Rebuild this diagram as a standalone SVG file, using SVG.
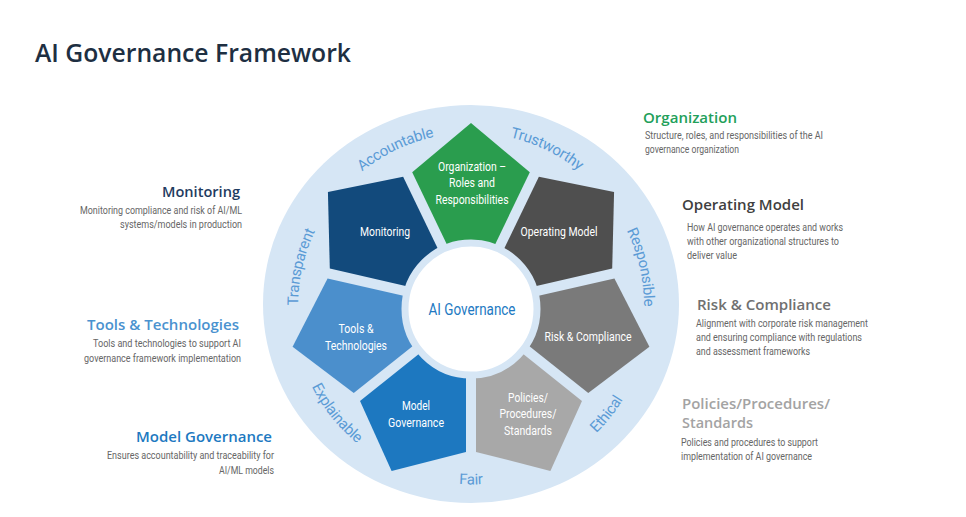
<svg xmlns="http://www.w3.org/2000/svg" xmlns:xlink="http://www.w3.org/1999/xlink" width="966" height="517" viewBox="0 0 966 517">
  <style>
    .title { font-family: "Open Sans", "Liberation Sans", sans-serif; font-weight: 600; font-size: 25px; fill: #1e2f42; }
    .head { font-family: "Open Sans", "Liberation Sans", sans-serif; font-weight: 600; font-size: 14.5px; }
    .body { font-family: Roboto, "Liberation Sans", sans-serif; font-size: 10.5px; fill: #666666; }
    .lbl { font-family: Roboto, "Liberation Sans", sans-serif; font-size: 12.5px; fill: #ffffff; text-anchor: middle; }
    .arc { font-family: Roboto, "Liberation Sans", sans-serif; font-size: 15px; letter-spacing: -0.3px; fill: #5b9bd5; }
    .end { text-anchor: end; }
  </style>
  <defs>
    <polygon id="wedge" points="0,-183 58.8,-133.7 24.1,-61.6 -24.1,-61.6 -58.8,-133.7"/>
    <path id="p-accountable" d="M313.3,234.8 A173,173 0 0 1 513.7,138.3"/>
    <path id="p-trustworthy" d="M428.3,138.3 A173,173 0 0 1 628.7,234.8"/>
    <path id="p-responsible" d="M575.4,168.1 A173,173 0 0 1 625.0,384.9"/>
    <path id="p-transparent" d="M317.0,384.9 A173,173 0 0 1 366.6,168.1"/>
    <path id="p-ethical" d="M506.4,481.0 A178.5,178.5 0 0 0 649.4,301.5"/>
    <path id="p-fair" d="M356.3,442.7 A178.5,178.5 0 0 0 585.7,442.7"/>
    <path id="p-explainable" d="M292.6,301.5 A178.5,178.5 0 0 0 435.6,481.0"/>
  </defs>

  <rect width="966" height="517" fill="#ffffff"/>
  <text class="title" x="35" y="62" textLength="316" lengthAdjust="spacingAndGlyphs">AI Governance Framework</text>

  <g id="wheel-ring">
    <ellipse cx="471" cy="304" rx="208" ry="199" fill="#d6e6f5"/>
  </g>

  <g id="node-organization">
    <use xlink:href="#wedge" transform="translate(471,306)" fill="#2a9d4e"/>
    <text class="lbl" x="472" y="171" textLength="68" lengthAdjust="spacingAndGlyphs">Organization –</text>
    <text class="lbl" x="472" y="187" textLength="46" lengthAdjust="spacingAndGlyphs">Roles and</text>
    <text class="lbl" x="472" y="204" textLength="73" lengthAdjust="spacingAndGlyphs">Responsibilities</text>
  </g>
  <g id="node-operating-model">
    <use xlink:href="#wedge" transform="translate(471,306) rotate(51.43)" fill="#4f4f4f"/>
    <text class="lbl" x="559" y="236" textLength="77" lengthAdjust="spacingAndGlyphs">Operating Model</text>
  </g>
  <g id="node-risk-compliance">
    <use xlink:href="#wedge" transform="translate(471,306) rotate(102.86)" fill="#7a7a7a"/>
    <text class="lbl" x="588" y="341" textLength="87" lengthAdjust="spacingAndGlyphs">Risk &amp; Compliance</text>
  </g>
  <g id="node-policies">
    <use xlink:href="#wedge" transform="translate(471,306) rotate(154.29)" fill="#a8a8a8"/>
    <text class="lbl" x="528" y="402" textLength="40" lengthAdjust="spacingAndGlyphs">Policies/</text>
    <text class="lbl" x="528" y="418" textLength="57" lengthAdjust="spacingAndGlyphs">Procedures/</text>
    <text class="lbl" x="528" y="435" textLength="48" lengthAdjust="spacingAndGlyphs">Standards</text>
  </g>
  <g id="node-model-governance">
    <use xlink:href="#wedge" transform="translate(471,306) rotate(205.71)" fill="#1d78c0"/>
    <text class="lbl" x="416" y="410" textLength="28" lengthAdjust="spacingAndGlyphs">Model</text>
    <text class="lbl" x="416" y="427" textLength="56" lengthAdjust="spacingAndGlyphs">Governance</text>
  </g>
  <g id="node-tools">
    <use xlink:href="#wedge" transform="translate(471,306) rotate(257.14)" fill="#4b8fcc"/>
    <text class="lbl" x="356" y="333" textLength="35" lengthAdjust="spacingAndGlyphs">Tools &amp;</text>
    <text class="lbl" x="356" y="350" textLength="62" lengthAdjust="spacingAndGlyphs">Technologies</text>
  </g>
  <g id="node-monitoring">
    <use xlink:href="#wedge" transform="translate(471,306) rotate(308.57)" fill="#124a7c"/>
    <text class="lbl" x="385" y="236" textLength="50" lengthAdjust="spacingAndGlyphs">Monitoring</text>
  </g>

  <g id="node-center">
    <circle cx="471" cy="309" r="66" fill="#ffffff" stroke="#d6e6f5" stroke-width="7"/>
    <text x="472" y="315" text-anchor="middle" font-family="Roboto, 'Liberation Sans', sans-serif" font-size="17" fill="#2279c2" textLength="87" lengthAdjust="spacingAndGlyphs">AI Governance</text>
  </g>

  <g id="principles">
    <text class="arc"><textPath xlink:href="#p-accountable" startOffset="50%" text-anchor="middle">Accountable</textPath></text>
    <text class="arc"><textPath xlink:href="#p-trustworthy" startOffset="50%" text-anchor="middle">Trustworthy</textPath></text>
    <text class="arc"><textPath xlink:href="#p-responsible" startOffset="50%" text-anchor="middle">Responsible</textPath></text>
    <text class="arc"><textPath xlink:href="#p-transparent" startOffset="50%" text-anchor="middle">Transparent</textPath></text>
    <text class="arc"><textPath xlink:href="#p-ethical" startOffset="50%" text-anchor="middle">Ethical</textPath></text>
    <text class="arc"><textPath xlink:href="#p-fair" startOffset="50%" text-anchor="middle">Fair</textPath></text>
    <text class="arc"><textPath xlink:href="#p-explainable" startOffset="50%" text-anchor="middle">Explainable</textPath></text>
  </g>

  <g id="desc-monitoring">
    <text class="head end" x="240" y="197" fill="#1f3c5f" textLength="78" lengthAdjust="spacingAndGlyphs">Monitoring</text>
    <text class="body end" x="242" y="214" textLength="162" lengthAdjust="spacingAndGlyphs">Monitoring compliance and risk of AI/ML</text>
    <text class="body end" x="242" y="228" textLength="122" lengthAdjust="spacingAndGlyphs">systems/models in production</text>
  </g>
  <g id="desc-tools">
    <text class="head end" x="239" y="330" fill="#4a92cf" textLength="152" lengthAdjust="spacingAndGlyphs">Tools &amp; Technologies</text>
    <text class="body end" x="241" y="347" textLength="148" lengthAdjust="spacingAndGlyphs">Tools and technologies to support AI</text>
    <text class="body end" x="241" y="362" textLength="157" lengthAdjust="spacingAndGlyphs">governance framework implementation</text>
  </g>
  <g id="desc-model-governance">
    <text class="head end" x="272" y="442" fill="#1d79c1" textLength="136" lengthAdjust="spacingAndGlyphs">Model Governance</text>
    <text class="body end" x="274" y="459" textLength="167" lengthAdjust="spacingAndGlyphs">Ensures accountability and traceability for</text>
    <text class="body end" x="274" y="474" textLength="55" lengthAdjust="spacingAndGlyphs">AI/ML models</text>
  </g>
  <g id="desc-organization">
    <text class="head" x="643" y="123" fill="#22a05a" textLength="94" lengthAdjust="spacingAndGlyphs">Organization</text>
    <text class="body" x="645" y="139" textLength="178" lengthAdjust="spacingAndGlyphs">Structure, roles, and responsibilities of the AI</text>
    <text class="body" x="645" y="153" textLength="94" lengthAdjust="spacingAndGlyphs">governance organization</text>
  </g>
  <g id="desc-operating-model">
    <text class="head" x="682" y="210" fill="#404040" textLength="122" lengthAdjust="spacingAndGlyphs">Operating Model</text>
    <text class="body" x="687" y="231" textLength="156" lengthAdjust="spacingAndGlyphs">How AI governance operates and works</text>
    <text class="body" x="687" y="245" textLength="152" lengthAdjust="spacingAndGlyphs">with other organizational structures to</text>
    <text class="body" x="687" y="259" textLength="50" lengthAdjust="spacingAndGlyphs">deliver value</text>
  </g>
  <g id="desc-risk-compliance">
    <text class="head" x="697" y="310" fill="#707070" textLength="134" lengthAdjust="spacingAndGlyphs">Risk &amp; Compliance</text>
    <text class="body" x="696" y="327" textLength="172" lengthAdjust="spacingAndGlyphs">Alignment with corporate risk management</text>
    <text class="body" x="696" y="341" textLength="166" lengthAdjust="spacingAndGlyphs">and ensuring compliance with regulations</text>
    <text class="body" x="696" y="355" textLength="114" lengthAdjust="spacingAndGlyphs">and assessment frameworks</text>
  </g>
  <g id="desc-policies">
    <text class="head" x="682" y="409" fill="#a3a3a3" textLength="148" lengthAdjust="spacingAndGlyphs">Policies/Procedures/</text>
    <text class="head" x="682" y="428" fill="#a3a3a3" textLength="71" lengthAdjust="spacingAndGlyphs">Standards</text>
    <text class="body" x="681" y="446" textLength="137" lengthAdjust="spacingAndGlyphs">Policies and procedures to support</text>
    <text class="body" x="681" y="460" textLength="131" lengthAdjust="spacingAndGlyphs">implementation of AI governance</text>
  </g>
</svg>
